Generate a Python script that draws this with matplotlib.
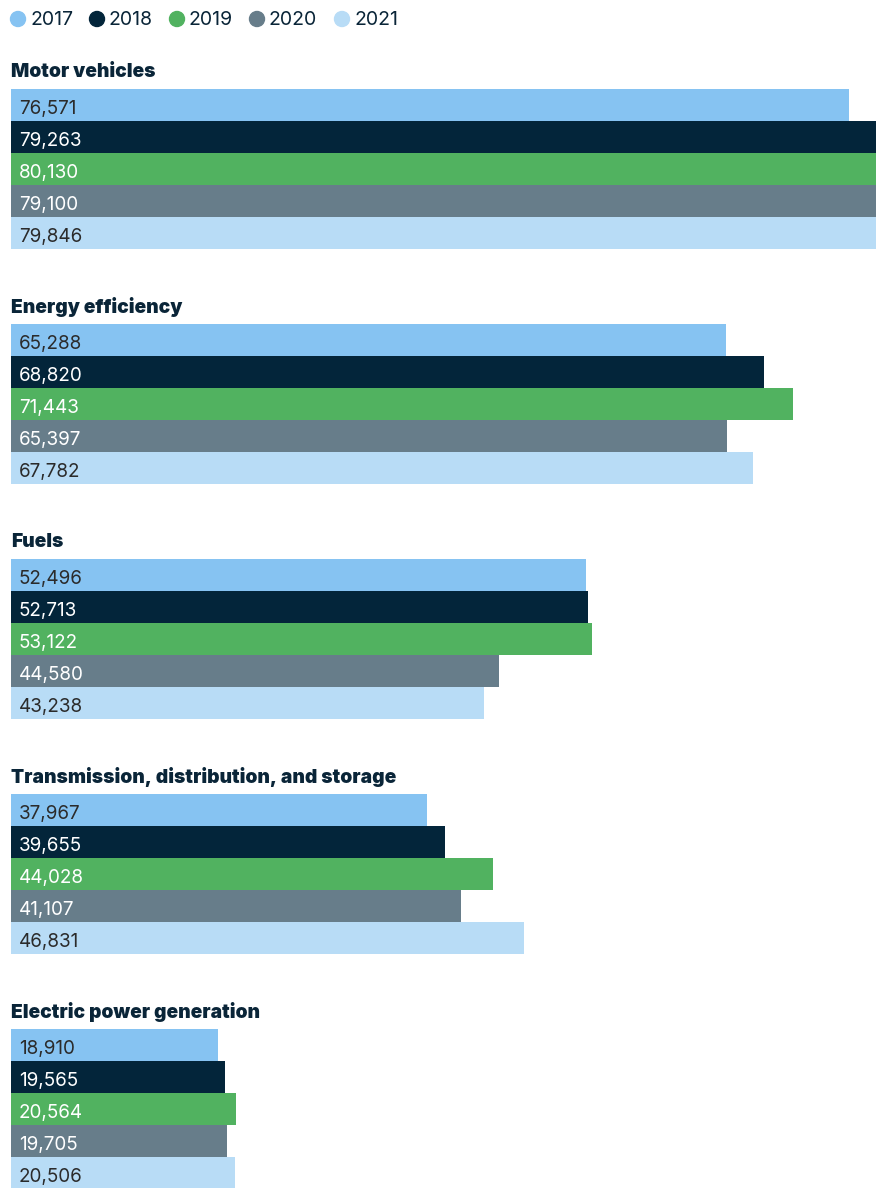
import matplotlib.pyplot as plt
from matplotlib.patches import Ellipse

# data
categories = ['Motor vehicles', 'Energy efficiency', 'Fuels',
              'Transmission, distribution, and storage', 'Electric power generation']
years = ['2017', '2018', '2019', '2020', '2021']
v2017 = [76571, 65288, 52496, 37967, 18910]
v2018 = [79263, 68820, 52713, 39655, 19565]
v2019 = [80130, 71443, 53122, 44028, 20564]
v2020 = [79100, 65397, 44580, 41107, 19705]
v2021 = [79846, 67782, 43238, 46831, 20506]

colors = ['#86c3f2', '#03253a', '#51b260', '#677d8a', '#b8dcf6']
label_colors = ['#2b2b2b', 'white', 'white', 'white', '#2b2b2b']
navy = '#0a2538'

plt.rcParams['font.family'] = ['Inter', 'DejaVu Sans']

W, H = 876, 1188
fig = plt.figure(figsize=(W / 100, H / 100), dpi=100)
left = 11
ax = fig.add_axes([left / W, 0, 1 - left / W, 1])
ax.set_xlim(0, (W - left) / 0.010944)
ax.set_ylim(H, 0)
ax.axis('off')

# layout in pixels
first_top = 89
group_step = 235
bar_h = 32

series = [v2017, v2018, v2019, v2020, v2021]
for g, cat in enumerate(categories):
    top = first_top + g * group_step
    ax.text(0, top - 17, cat, fontsize=13.8, fontweight='black', color=navy,
            va='center', ha='left')
    for i, vals in enumerate(series):
        yc = top + i * bar_h + bar_h / 2
        ax.barh(yc, vals[g], height=bar_h, color=colors[i], linewidth=0)
        ax.annotate(f'{vals[g]:,}', (0, yc), xytext=(8, -4), textcoords='offset pixels',
                    fontsize=13.6, color=label_colors[i], va='center', ha='left')

# legend
legend_x = [18, 97, 177, 257, 342]
for x, yr, c in zip(legend_x, years, colors):
    fig.patches.append(Ellipse((x / W, 1 - 19 / H), 15 / W, 15 / H, color=c,
                               transform=fig.transFigure, figure=fig))
    fig.text((x + 12) / W, 1 - 20 / H, yr, fontsize=14, color=navy,
             va='center', ha='left')

fig.savefig('out.png', dpi=100)
